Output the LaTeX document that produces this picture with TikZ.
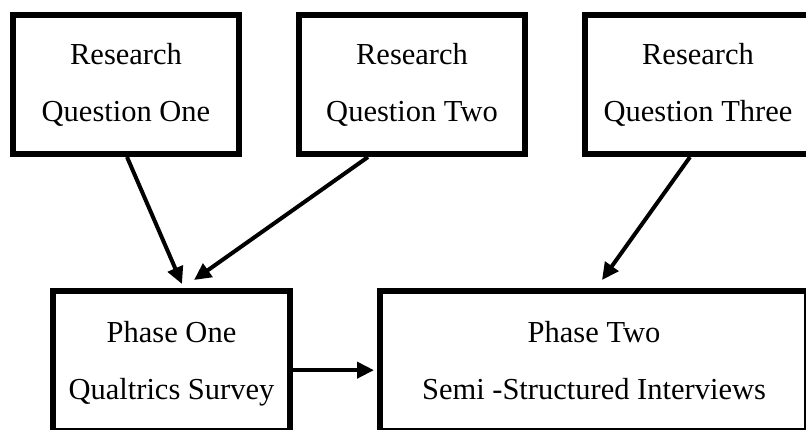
\documentclass[tikz,border=0pt]{standalone}
\usepackage{fontspec}
\setmainfont{Liberation Serif}
\usetikzlibrary{arrows.meta}
\begin{document}
\begin{tikzpicture}[x=1pt,y=-1pt,
  txt/.style={align=center,inner sep=0pt,font=\fontsize{30.5}{57}\selectfont},
  box/.style={txt,draw=black,line width=6pt,fill=white},
  topbox/.style={box,minimum width=226pt,minimum height=139pt},
  conn/.style={line width=4pt,-{Triangle[length=17pt,width=16pt]}}]
\useasboundingbox (0,0) rectangle (806,429);
\fill[white] (0,0) rectangle (806,429);
\clip (0,0) rectangle (806,429);
% top row
\node[topbox] (q1) at (126,84.5) {Research\\Question One};
\node[topbox] (q2) at (412,84.5) {Research\\Question Two};
\node[topbox,minimum width=240pt] (q3) at (705,84.5) {};
\node[txt] (q3t) at (698,84.5) {Research\\Question Three};
% bottom row
\node[box,minimum width=237pt,minimum height=140.3pt] (p1) at (171.5,361.15) {};
\node[txt] (p1t) at (171.5,364) {Phase One\\Qualtrics Survey};
\node[box,minimum width=427pt,minimum height=140.3pt] (p2) at (593.5,361.15) {};
\node[txt] (p2t) at (594,361) {Phase Two\\Semi -Structured Interviews};
% connectors
\draw[conn] ([xshift=1pt]q1.south) -- ([xshift=10.5pt,yshift=4pt]p1.north);
\draw[conn] ([xshift=-44pt]q2.south) -- ([xshift=22.5pt,yshift=8pt]p1.north);
\draw[conn] ([xshift=-15pt]q3.south) -- ([xshift=8.5pt,yshift=8pt]p2.north);
\draw[conn] ([yshift=-9pt]p1.east) -- ([xshift=-3pt,yshift=-9pt]p2.west);
\end{tikzpicture}
\end{document}
